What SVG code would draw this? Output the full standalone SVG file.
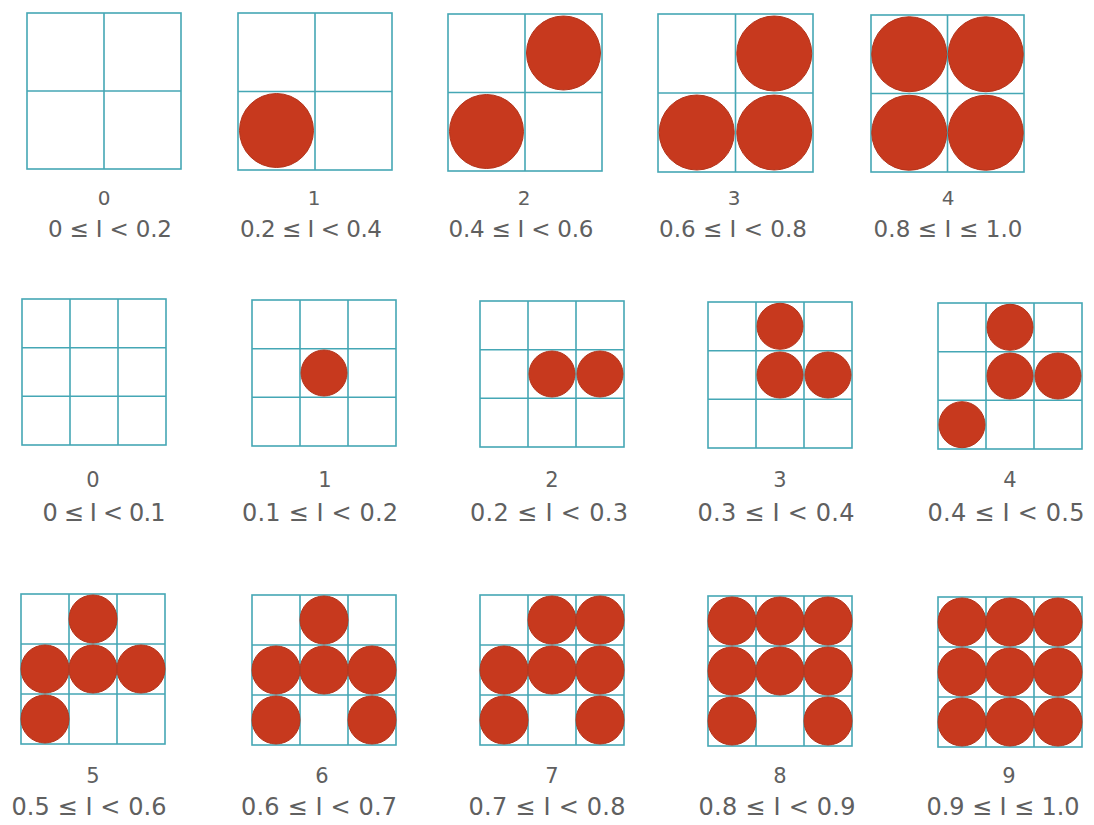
<svg xmlns="http://www.w3.org/2000/svg" width="1094" height="825" viewBox="0 0 1094 825">
<style>
.g{fill:none;stroke:#45a7b5;stroke-width:1.6}
.d{fill:#c7391e;stroke:#b3341b;stroke-width:1}
.n{font-family:"DejaVu Sans","Liberation Sans",sans-serif;fill:#606060;text-anchor:middle}
.k1{font-size:20px}
.k2{font-size:21px}
.r1{font-size:23px}
.r2{font-size:24px}
</style>
<rect width="1094" height="825" fill="#fff"/>
<!-- Row 1 -->
<g id="r1t0">
<rect class="g" x="27" y="13" width="154" height="156"/>
<path class="g" d="M104 13V169M27 91H181"/>
<text class="n k1" x="104" y="205">0</text>
<text class="n r1" x="110" y="237" textLength="124" lengthAdjust="spacing">0 ≤ I &lt; 0.2</text>
</g>
<g id="r1t1">
<rect class="g" x="238" y="13" width="154" height="157"/>
<path class="g" d="M315 13V170M238 91.5H392"/>
<circle class="d" cx="276.5" cy="130.5" r="37"/>
<text class="n k1" x="314" y="205">1</text>
<text class="n r1" x="311" y="237" textLength="142" lengthAdjust="spacing">0.2 ≤ I &lt; 0.4</text>
</g>
<g id="r1t2">
<rect class="g" x="448" y="14" width="154" height="157"/>
<path class="g" d="M525 14V171M448 92.5H602"/>
<circle class="d" cx="563.5" cy="53" r="37"/>
<circle class="d" cx="486.5" cy="131.5" r="37"/>
<text class="n k1" x="524" y="205">2</text>
<text class="n r1" x="521" y="237" textLength="145" lengthAdjust="spacing">0.4 ≤ I &lt; 0.6</text>
</g>
<g id="r1t3">
<rect class="g" x="658" y="14" width="155" height="158"/>
<path class="g" d="M735.5 14V172M658 93H813"/>
<circle class="d" cx="774.25" cy="53.5" r="37.5"/>
<circle class="d" cx="696.75" cy="132.5" r="37.5"/>
<circle class="d" cx="774.25" cy="132.5" r="37.5"/>
<text class="n k1" x="734" y="205">3</text>
<text class="n r1" x="733" y="237" textLength="148" lengthAdjust="spacing">0.6 ≤ I &lt; 0.8</text>
</g>
<g id="r1t4">
<rect class="g" x="871" y="15" width="153" height="157"/>
<path class="g" d="M947.5 15V172M871 93.5H1024"/>
<circle class="d" cx="909.25" cy="54.25" r="37.5"/>
<circle class="d" cx="985.75" cy="54.25" r="37.5"/>
<circle class="d" cx="909.25" cy="132.75" r="37.5"/>
<circle class="d" cx="985.75" cy="132.75" r="37.5"/>
<text class="n k1" x="948" y="205">4</text>
<text class="n r1" x="948" y="237" textLength="149" lengthAdjust="spacing">0.8 ≤ I ≤ 1.0</text>
</g>
<!-- Row 2 -->
<g id="r2t0">
<rect class="g" x="22" y="299" width="144" height="146"/>
<path class="g" d="M70 299V445M118 299V445M22 347.7H166M22 396.3H166"/>
<text class="n k2" x="93" y="487">0</text>
<text class="n r2" x="104" y="521" textLength="123" lengthAdjust="spacing">0 ≤ I &lt; 0.1</text>
</g>
<g id="r2t1">
<rect class="g" x="252" y="300" width="144" height="146"/>
<path class="g" d="M300 300V446M348 300V446M252 348.7H396M252 397.3H396"/>
<circle class="d" cx="324" cy="373" r="23"/>
<text class="n k2" x="325" y="487">1</text>
<text class="n r2" x="320" y="521" textLength="156" lengthAdjust="spacing">0.1 ≤ I &lt; 0.2</text>
</g>
<g id="r2t2">
<rect class="g" x="480" y="301" width="144" height="146"/>
<path class="g" d="M528 301V447M576 301V447M480 349.7H624M480 398.3H624"/>
<circle class="d" cx="552" cy="374" r="23"/>
<circle class="d" cx="600" cy="374" r="23"/>
<text class="n k2" x="552" y="487">2</text>
<text class="n r2" x="549" y="521" textLength="158" lengthAdjust="spacing">0.2 ≤ I &lt; 0.3</text>
</g>
<g id="r2t3">
<rect class="g" x="708" y="302" width="144" height="146"/>
<path class="g" d="M756 302V448M804 302V448M708 350.7H852M708 399.3H852"/>
<circle class="d" cx="780" cy="326.3" r="23"/>
<circle class="d" cx="780" cy="375" r="23"/>
<circle class="d" cx="828" cy="375" r="23"/>
<text class="n k2" x="780" y="487">3</text>
<text class="n r2" x="776" y="521" textLength="157" lengthAdjust="spacing">0.3 ≤ I &lt; 0.4</text>
</g>
<g id="r2t4">
<rect class="g" x="938" y="303" width="144" height="146"/>
<path class="g" d="M986 303V449M1034 303V449M938 351.7H1082M938 400.3H1082"/>
<circle class="d" cx="1010" cy="327.3" r="23"/>
<circle class="d" cx="1010" cy="376" r="23"/>
<circle class="d" cx="1058" cy="376" r="23"/>
<circle class="d" cx="962" cy="424.7" r="23"/>
<text class="n k2" x="1010" y="487">4</text>
<text class="n r2" x="1006" y="521" textLength="157" lengthAdjust="spacing">0.4 ≤ I &lt; 0.5</text>
</g>
<!-- Row 3 -->
<g id="r3t5">
<rect class="g" x="21" y="594" width="144" height="150"/>
<path class="g" d="M69 594V744M117 594V744M21 644H165M21 694H165"/>
<circle class="d" cx="93" cy="619" r="24"/>
<circle class="d" cx="45" cy="669" r="24"/>
<circle class="d" cx="93" cy="669" r="24"/>
<circle class="d" cx="141" cy="669" r="24"/>
<circle class="d" cx="45" cy="719" r="24"/>
<text class="n k2" x="93" y="783">5</text>
<text class="n r2" x="89" y="815" textLength="155" lengthAdjust="spacing">0.5 ≤ I &lt; 0.6</text>
</g>
<g id="r3t6">
<rect class="g" x="252" y="595" width="144" height="150"/>
<path class="g" d="M300 595V745M348 595V745M252 645H396M252 695H396"/>
<circle class="d" cx="324" cy="620" r="24"/>
<circle class="d" cx="276" cy="670" r="24"/>
<circle class="d" cx="324" cy="670" r="24"/>
<circle class="d" cx="372" cy="670" r="24"/>
<circle class="d" cx="276" cy="720" r="24"/>
<circle class="d" cx="372" cy="720" r="24"/>
<text class="n k2" x="322" y="783">6</text>
<text class="n r2" x="319" y="815" textLength="156" lengthAdjust="spacing">0.6 ≤ I &lt; 0.7</text>
</g>
<g id="r3t7">
<rect class="g" x="480" y="595" width="144" height="150"/>
<path class="g" d="M528 595V745M576 595V745M480 645H624M480 695H624"/>
<circle class="d" cx="552" cy="620" r="24"/>
<circle class="d" cx="600" cy="620" r="24"/>
<circle class="d" cx="504" cy="670" r="24"/>
<circle class="d" cx="552" cy="670" r="24"/>
<circle class="d" cx="600" cy="670" r="24"/>
<circle class="d" cx="504" cy="720" r="24"/>
<circle class="d" cx="600" cy="720" r="24"/>
<text class="n k2" x="552" y="783">7</text>
<text class="n r2" x="547" y="815" textLength="157" lengthAdjust="spacing">0.7 ≤ I &lt; 0.8</text>
</g>
<g id="r3t8">
<rect class="g" x="708" y="596" width="144" height="150"/>
<path class="g" d="M756 596V746M804 596V746M708 646H852M708 696H852"/>
<circle class="d" cx="732" cy="621" r="24"/>
<circle class="d" cx="780" cy="621" r="24"/>
<circle class="d" cx="828" cy="621" r="24"/>
<circle class="d" cx="732" cy="671" r="24"/>
<circle class="d" cx="780" cy="671" r="24"/>
<circle class="d" cx="828" cy="671" r="24"/>
<circle class="d" cx="732" cy="721" r="24"/>
<circle class="d" cx="828" cy="721" r="24"/>
<text class="n k2" x="780" y="783">8</text>
<text class="n r2" x="777" y="815" textLength="157" lengthAdjust="spacing">0.8 ≤ I &lt; 0.9</text>
</g>
<g id="r3t9">
<rect class="g" x="938" y="597" width="144" height="150"/>
<path class="g" d="M986 597V747M1034 597V747M938 647H1082M938 697H1082"/>
<circle class="d" cx="962" cy="622" r="24"/>
<circle class="d" cx="1010" cy="622" r="24"/>
<circle class="d" cx="1058" cy="622" r="24"/>
<circle class="d" cx="962" cy="672" r="24"/>
<circle class="d" cx="1010" cy="672" r="24"/>
<circle class="d" cx="1058" cy="672" r="24"/>
<circle class="d" cx="962" cy="722" r="24"/>
<circle class="d" cx="1010" cy="722" r="24"/>
<circle class="d" cx="1058" cy="722" r="24"/>
<text class="n k2" x="1009" y="783">9</text>
<text class="n r2" x="1003" y="815" textLength="153" lengthAdjust="spacing">0.9 ≤ I ≤ 1.0</text>
</g>
</svg>
